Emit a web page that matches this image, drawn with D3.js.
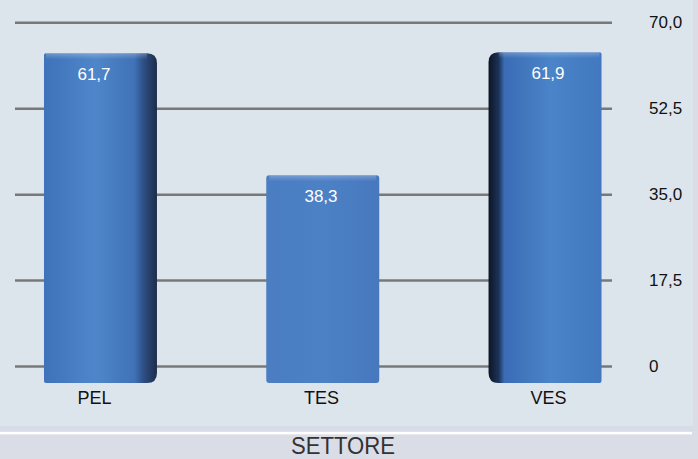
<!DOCTYPE html>
<html>
<head>
<meta charset="utf-8">
<script src="https://cdn.jsdelivr.net/npm/d3@7/dist/d3.min.js"></script>
<style>
  html, body { margin: 0; padding: 0; background: #dadce6; }
  svg { display: block; }
  text { font-family: "Liberation Sans", Arial, Helvetica, sans-serif; }
</style>
</head>
<body>
<svg id="chart" width="698" height="459"></svg>
<script>
// Sector values (percent)
const categories = ["PEL", "TES", "VES"];
const values = [61.7, 38.3, 61.9];
const valueLabels = ["61,7", "38,3", "61,9"];

// Right-hand axis
const tickValues = [0, 17.5, 35, 52.5, 70];
const tickLabels = ["0", "17,5", "35,0", "52,5", "70,0"];

const axisTitle = "SETTORE";

const W = 698, H = 459;
const svg = d3.select("#chart");
const defs = svg.append("defs");

// Panel background
svg.append("rect").attr("x", 0).attr("y", 0).attr("width", W).attr("height", H).attr("fill", "#dadce6");
svg.append("rect").attr("x", 0).attr("y", 0).attr("width", 693).attr("height", 426).attr("fill", "#dde5ec");
svg.append("rect").attr("x", 0).attr("y", 426).attr("width", 693).attr("height", 6).attr("fill", "#d7dce6");
svg.append("rect").attr("x", 0).attr("y", 431.8).attr("width", 692).attr("height", 2.6).attr("fill", "#ffffff");

// Back-wall scale (gridlines) and front-plane scale (bars)
const yWall = d3.scaleLinear().domain([0, 70]).range([366, 22.3]);
const yFront = d3.scaleLinear().domain([0, 70]).range([375, 10]);

const x = d3.scaleBand().domain(categories)
  .range([-11.6, 657.1]).paddingInner(0.4917).paddingOuter(0.25);
// Label positions along the front edge
const xLabel = d3.scalePoint().domain(categories).range([94, 548]);

// Gridlines + right axis labels
const gridLeft = 15, gridRight = 612;
const axis = d3.axisRight(yWall)
  .tickValues(tickValues)
  .tickSize(-(gridRight - gridLeft))
  .tickPadding(37)
  .tickFormat((d, i) => tickLabels[i]);
const gAxis = svg.append("g").attr("transform", `translate(${gridRight},0)`).call(axis);
gAxis.select(".domain").remove();
gAxis.selectAll(".tick line").attr("stroke", "#787878").attr("stroke-width", 2.5);
gAxis.selectAll(".tick text").attr("fill", "#111").attr("font-size", 17)
  .attr("font-family", "'Liberation Sans', Arial, sans-serif");

// Bar shading: 0 = dark right edge, 1 = flat, 2 = dark left edge
const shading = [
  [["0%", "#3f72b9"], ["45%", "#4f86ca"], ["80%", "#4072b8"], ["88%", "#2e4f85"], ["100%", "#1d2c4a"]],
  [["0%", "#4a7dc2"], ["50%", "#4c81c6"], ["100%", "#4778bd"]],
  [["0%", "#0c1526"], ["9%", "#1c3358"], ["14%", "#3a6cb5"], ["55%", "#4b84c8"], ["100%", "#4178bf"]]
];
shading.forEach((stops, i) => {
  const g = defs.append("linearGradient").attr("id", "barGrad" + i)
    .attr("x1", "0%").attr("x2", "100%").attr("y1", "0%").attr("y2", "0%");
  stops.forEach(s => g.append("stop").attr("offset", s[0]).attr("stop-color", s[1]));
});
const capGrad = defs.append("linearGradient").attr("id", "capGrad")
  .attr("x1", "0%").attr("x2", "0%").attr("y1", "0%").attr("y2", "100%");
capGrad.append("stop").attr("offset", "0%").attr("stop-color", "#ffffff").attr("stop-opacity", 0.25);
capGrad.append("stop").attr("offset", "100%").attr("stop-color", "#ffffff").attr("stop-opacity", 0);

// Corner radii per bar: [topLeft, topRight, bottomRight, bottomLeft]
const corners = [[2, 10, 10, 2], [3, 3, 3, 3], [10, 2, 2, 10]];

function barPath(x0, y0, w, h, r) {
  const [tl, tr, br, bl] = r;
  return `M${x0 + tl},${y0}
    H${x0 + w - tr} Q${x0 + w},${y0} ${x0 + w},${y0 + tr}
    V${y0 + h - br} Q${x0 + w},${y0 + h} ${x0 + w - br},${y0 + h}
    H${x0 + bl} Q${x0},${y0 + h} ${x0},${y0 + h - bl}
    V${y0 + tl} Q${x0},${y0} ${x0 + tl},${y0} Z`;
}

const baseDrop = 8; // bars extend slightly below the floor line
const bars = svg.append("g").selectAll("g").data(categories).join("g");
bars.append("path")
  .attr("d", (c, i) => {
    const y0 = yFront(values[i]);
    return barPath(x(c), y0, x.bandwidth(), yFront(0) + baseDrop - y0, corners[i]);
  })
  .attr("fill", (c, i) => `url(#barGrad${i})`);
bars.append("rect")
  .attr("x", (c, i) => x(c) + corners[i][0])
  .attr("y", (c, i) => yFront(values[i]))
  .attr("width", (c, i) => x.bandwidth() - corners[i][0] - corners[i][1])
  .attr("height", 6)
  .attr("fill", "url(#capGrad)");

// Value labels inside the bars
svg.append("g").selectAll("text").data(categories).join("text")
  .attr("x", c => xLabel(c))
  .attr("y", (c, i) => yFront(values[i]) + 27)
  .attr("text-anchor", "middle")
  .attr("fill", "#ffffff")
  .attr("font-size", 17)
  .text((c, i) => valueLabels[i]);

// Category axis
const xAxis = d3.axisBottom(xLabel).tickSize(0).tickPadding(0);
const gx = svg.append("g").attr("transform", "translate(0,388)").call(xAxis);
gx.select(".domain").remove();
gx.selectAll(".tick text").attr("fill", "#111")
  .attr("dy", "0.9em")
  .attr("font-family", "'Liberation Sans Narrow', 'Liberation Sans', Arial, sans-serif")
  .attr("font-size", 18);

// Axis title
svg.append("text")
  .attr("x", 343).attr("y", 454)
  .attr("text-anchor", "middle")
  .attr("fill", "#333")
  .attr("font-size", 23)
  .attr("font-family", "'Liberation Sans Narrow', 'DejaVu Sans Condensed', sans-serif")
  .attr("textLength", 104)
  .attr("lengthAdjust", "spacingAndGlyphs")
  .text(axisTitle);
</script>
</body>
</html>
